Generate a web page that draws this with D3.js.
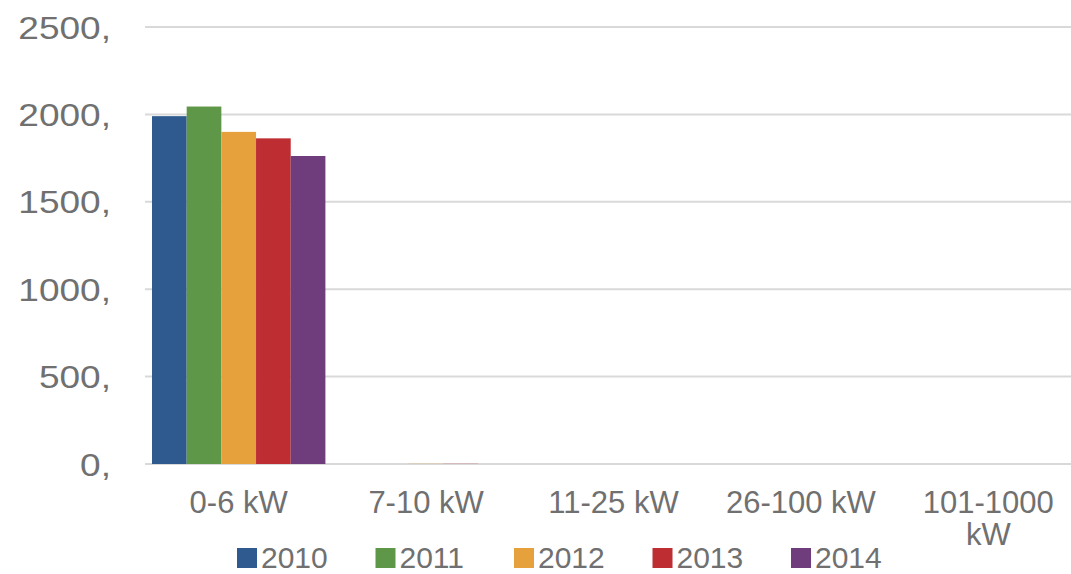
<!DOCTYPE html>
<html lang="en">
<head>
    <meta charset="utf-8">
    <script src="https://cdn.jsdelivr.net/npm/d3@7/dist/d3.min.js"></script>
    <style type="text/css">
        body { margin: 0; background: #fff; }
        text { font-family: "Liberation Sans", Arial, sans-serif; fill: #707070; }
    </style>
</head>
<body>
<script>
    var categories = ['0-6 kW', '7-10 kW', '11-25 kW', '26-100 kW', '101-1000 kW'];
    var years = ['2010', '2011', '2012', '2013', '2014'];
    var colors = ['#2e5a8f', '#5e9748', '#e6a13d', '#bd2d32', '#6f3d7c'];
    // values per year, one per category
    var v2010 = [1990, 0, 0, 0, 0];
    var v2011 = [2045, 0, 0, 0, 0];
    var v2012 = [1900, 4, 0, 0, 0];
    var v2013 = [1863, 4, 0, 0, 0];
    var v2014 = [1762, 0, 0, 0, 0];
    var yTicks = [0, 500, 1000, 1500, 2000, 2500];

    var series = [v2010, v2011, v2012, v2013, v2014];

    var width = 1071, height = 574;
    var plotLeft = 145, plotRight = 1082, plotTop = 27, plotBottom = 464;

    var svg = d3.select('body')
            .append('svg')
            .attr('width', width)
            .attr('height', height);

    var x = d3.scaleBand()
            .domain(categories)
            .range([plotLeft, plotRight]);

    var x1 = d3.scaleBand()
            .domain(years)
            .range([7, x.bandwidth() - 7]);

    var y = d3.scaleLinear()
            .domain([0, 2500])
            .range([plotBottom, plotTop]);

    // gridlines
    svg.selectAll('line.grid')
            .data(yTicks)
            .enter()
            .append('line')
            .attr('class', 'grid')
            .attr('x1', plotLeft)
            .attr('x2', width)
            .attr('y1', function (d) { return y(d); })
            .attr('y2', function (d) { return y(d); })
            .style('stroke', '#d9d9d9')
            .style('stroke-width', 2);

    // y labels (glyphs a bit wide in the original)
    svg.selectAll('text.ytick')
            .data(yTicks)
            .enter()
            .append('text')
            .attr('class', 'ytick')
            .attr('x', 111)
            .attr('y', function (d) { return y(d); })
            .attr('dy', '0.36em')
            .attr('text-anchor', 'end')
            .style('font-size', '32px')
            .attr('lengthAdjust', 'spacingAndGlyphs')
            .attr('textLength', function (d) { return (String(d).length + 0.5) * 20.6; })
            .text(function (d) { return d + ','; });

    // bars
    var groups = svg.selectAll('g.cat')
            .data(categories)
            .enter()
            .append('g')
            .attr('class', 'cat')
            .attr('transform', function (d) { return 'translate(' + x(d) + ',0)'; });

    groups.selectAll('rect')
            .data(function (d, i) {
                return years.map(function (yr, j) {
                    return {year: yr, value: series[j][i], color: colors[j]};
                });
            })
            .enter()
            .append('rect')
            .attr('x', function (d) { return x1(d.year); })
            .attr('y', function (d) { return y(d.value); })
            .attr('width', x1.bandwidth())
            .attr('height', function (d) { return plotBottom - y(d.value); })
            .style('fill', function (d) { return d.color; })
            .style('fill-opacity', function (d) { return d.value < 10 ? 0.25 : 1; });

    // category labels
    var labelLines = {'101-1000 kW': ['101-1000', 'kW']};
    var cat = svg.selectAll('text.cat')
            .data(categories)
            .enter()
            .append('text')
            .attr('class', 'cat')
            .attr('text-anchor', 'middle')
            .style('font-size', '31px')
            .attr('x', function (d) { return x(d) + x.bandwidth() / 2; });

    cat.each(function (d) {
        var lines = labelLines[d] || [d];
        var t = d3.select(this);
        lines.forEach(function (l, i) {
            t.append('tspan')
                    .attr('x', x(d) + x.bandwidth() / 2)
                    .attr('y', 513 + i * 32)
                    .text(l);
        });
    });

    // legend
    var legend = svg.selectAll('g.legend')
            .data(years)
            .enter()
            .append('g')
            .attr('class', 'legend')
            .attr('transform', function (d, i) { return 'translate(' + (237 + i * 138.5) + ',548)'; });

    legend.append('rect')
            .attr('width', 20)
            .attr('height', 20)
            .style('fill', function (d, i) { return colors[i]; });

    legend.append('text')
            .attr('x', 24)
            .attr('y', 20)
            .style('font-size', '30px')
            .text(function (d) { return d; });
</script>
</body>
</html>
